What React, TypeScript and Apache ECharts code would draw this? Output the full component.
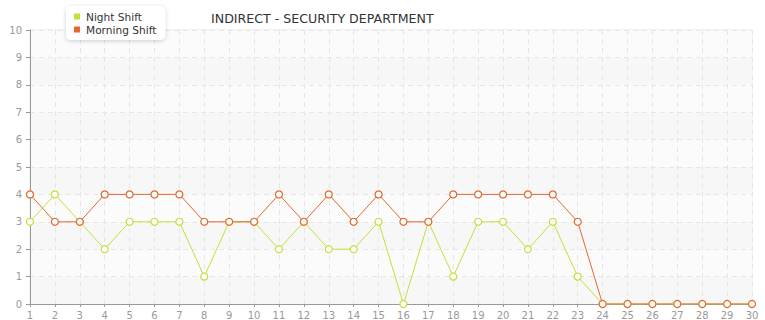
import React, { useEffect, useRef } from "react";
import * as echarts from "echarts";

const days = Array.from({ length: 30 }, (_, i) => String(i + 1));
const nightShift = [3, 4, 3, 2, 3, 3, 3, 1, 3, 3, 2, 3, 2, 2, 3, 0, 3, 1, 3, 3, 2, 3, 1, 0, 0, 0, 0, 0, 0, 0];
const morningShift = [4, 3, 3, 4, 4, 4, 4, 3, 3, 3, 4, 3, 4, 3, 4, 3, 3, 4, 4, 4, 4, 4, 3, 0, 0, 0, 0, 0, 0, 0];
const title = "INDIRECT - SECURITY DEPARTMENT";
const nightColor = "#c4df3a";
const morningColor = "#e5672d";

export default function App() {
  const ref = useRef<HTMLDivElement>(null);
  useEffect(() => {
    if (!ref.current) return;
    const chart = echarts.init(ref.current, null, { renderer: "svg" });
    const font = "DejaVu Sans";
    chart.setOption({
      animation: false,
      title: {
        text: title,
        left: 206,
        top: 7,
        padding: 5,
        textStyle: { fontSize: 12.6, fontWeight: "normal", color: "#333", fontFamily: font },
      },
      legend: {
        orient: "vertical",
        left: 66,
        top: 6,
        icon: "rect",
        itemWidth: 6,
        itemHeight: 6,
        itemGap: 2,
        padding: [5, 9, 5, 8],
        backgroundColor: "#fff",
        borderRadius: 5,
        shadowBlur: 4,
        shadowColor: "rgba(0,0,0,0.18)",
        shadowOffsetY: 1,
        textStyle: { fontSize: 10.6, color: "#333", fontFamily: font, padding: [0, 0, 0, 1] },
        data: [
          { name: "Night Shift", itemStyle: { color: nightColor, borderWidth: 0 } },
          { name: "Morning Shift", itemStyle: { color: morningColor, borderWidth: 0 } },
        ],
      },
      grid: { left: 30, right: 13, top: 30, bottom: 15, show: true, borderColor: "#e6e6e6", borderWidth: 1 },
      xAxis: {
        type: "category",
        data: days,
        boundaryGap: false,
        axisLine: { lineStyle: { color: "#999" } },
        axisTick: { show: true, length: 3, lineStyle: { color: "#999" } },
        axisLabel: { color: "#999", fontSize: 10, fontFamily: font, margin: 6, interval: 0 },
        splitLine: { show: true, lineStyle: { color: "#e6e6e6", type: [5, 4] } },
      },
      yAxis: {
        type: "value",
        min: 0,
        max: 10,
        interval: 1,
        axisLine: { show: true, lineStyle: { color: "#999" } },
        axisTick: { show: true, length: 4, lineStyle: { color: "#999" } },
        axisLabel: { color: "#999", fontSize: 10, fontFamily: font, margin: 8 },
        splitLine: { show: true, lineStyle: { color: "#e6e6e6", type: [5, 4] } },
        splitArea: { show: true, areaStyle: { color: ["#f7f7f7", "#fbfbfb"] } },
      },
      series: [
        {
          name: "Night Shift",
          type: "line",
          data: nightShift,
          symbol: "circle",
          symbolSize: 7,
          color: nightColor,
          lineStyle: { width: 1, color: nightColor },
          itemStyle: { color: "#fff", borderColor: nightColor, borderWidth: 1.2 },
        },
        {
          name: "Morning Shift",
          type: "line",
          data: morningShift,
          symbol: "circle",
          symbolSize: 7,
          color: morningColor,
          lineStyle: { width: 1, color: morningColor },
          itemStyle: { color: "#fff", borderColor: morningColor, borderWidth: 1.2 },
        },
      ],
    });
    return () => chart.dispose();
  }, []);
  return <div ref={ref} style={{ width: 765, height: 320, position: "absolute", left: 0, top: 0 }} />;
}
